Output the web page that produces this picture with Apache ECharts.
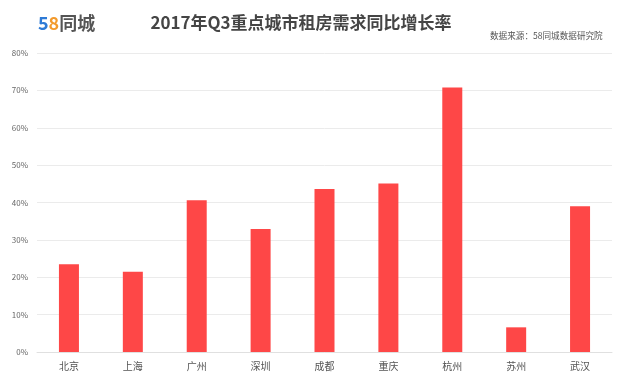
<!DOCTYPE html>
<html><head><meta charset="utf-8">
<script src="https://cdn.jsdelivr.net/npm/echarts@6/dist/echarts.min.js"></script>
<style>html,body{margin:0;padding:0;background:#fff}#c{width:630px;height:378px}</style>
</head><body><div id="c"></div>
<script>
var categories = ['北京','上海','广州','深圳','成都','重庆','杭州','苏州','武汉'];
var growth = [23.5, 21.5, 40.6, 32.9, 43.6, 45.1, 70.8, 6.6, 39.0];
var yTicks = [0, 10, 20, 30, 40, 50, 60, 70, 80];

var chart = echarts.init(document.getElementById('c'), null, {renderer:'canvas'});
var font = '"Microsoft YaHei","Noto Sans CJK SC",sans-serif';
chart.setOption({
  backgroundColor:'#fff',
  animation:false,
  title:[{
    text:'2017年Q3重点城市租房需求同比增长率',
    left:296, top:9, textAlign:'center',
    textStyle:{fontSize:17, fontWeight:'bold', color:'#454545', fontFamily:font}
  },{
    text:'{a|5}{b|8}{c|同城}',
    left:33, top:9,
    textStyle:{rich:{
      a:{fontSize:18, color:'#2d7ad6', fontWeight:'bold', fontFamily:font},
      b:{fontSize:18, color:'#f39a2b', fontWeight:'bold', fontFamily:font},
      c:{fontSize:18, color:'#555', fontFamily:font}
    }}
  },{
    text:'数据来源：58同城数据研究院',
    left:485, top:26,
    textStyle:{fontSize:8.6, color:'#555', fontWeight:'normal', fontFamily:font}
  }],
  grid:{left:37, right:18, top:53, bottom:26, containLabel:false},
  xAxis:{
    type:'category', data:categories,
    axisLine:{lineStyle:{color:'#e0e0e0'}},
    axisTick:{show:false},
    axisLabel:{color:'#555', fontSize:10, margin:9, fontFamily:font}
  },
  yAxis:{
    type:'value', min:yTicks[0], max:yTicks[yTicks.length-1], interval:10,
    axisLine:{show:false}, axisTick:{show:false},
    splitLine:{lineStyle:{color:'#ebebeb'}},
    axisLabel:{color:'#666', fontSize:8, margin:9, formatter:'{value}%', fontFamily:font}
  },
  series:[{
    type:'bar', data:growth, barWidth:20,
    itemStyle:{color:'#fe4747'}
  }]
});
</script></body></html>
